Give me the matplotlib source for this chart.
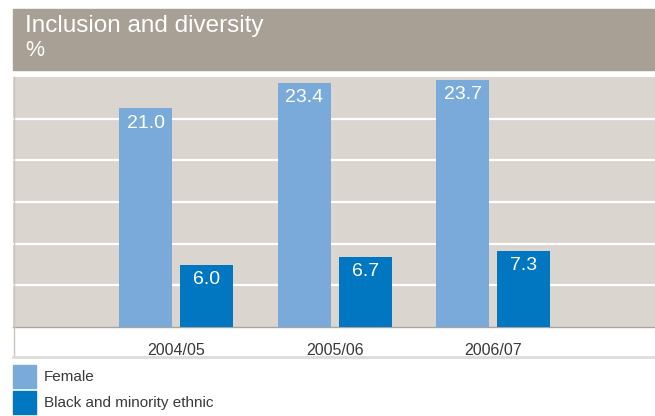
import matplotlib
matplotlib.use("Agg")
import matplotlib.pyplot as plt
from matplotlib.patches import Rectangle
from matplotlib.lines import Line2D
import numpy as np

plt.rcParams['font.family'] = ['Liberation Sans', 'DejaVu Sans']

years = ["2004/05", "2005/06", "2006/07"]
female = [21.0, 23.4, 23.7]
bme = [6.0, 6.7, 7.3]
series_names = ["Female", "Black and minority ethnic"]
title = "Inclusion and diversity"
unit = "%"

c_female = "#7aaad9"
c_bme = "#0077c0"
bg = "#dad5cf"
header = "#a89f95"

W, H = 655, 416
fig = plt.figure(figsize=(W / 100, H / 100), dpi=100)

def fx(px):
    return px / W

def fy(py):
    return 1 - py / H

# header band
fig.patches.append(Rectangle((fx(13), fy(70)), fx(W) - fx(13), fy(9) - fy(70),
                             transform=fig.transFigure, color=header, zorder=0))
fig.text(fx(25), fy(32), title, color="white", fontsize=17.5, fontweight="normal",
         va="baseline", ha="left")
fig.text(fx(25), fy(56.5), unit, color="white", fontsize=15.5, va="baseline", ha="left")

# plot axes
ax = fig.add_axes([fx(13), fy(327), fx(W) - fx(13), fy(77) - fy(327)])
ax.set_facecolor(bg)
ax.set_ylim(0, 24)
ax.set_xlim(-1.03, 3.02)
ax.set_yticks([4, 8, 12, 16, 20])
ax.yaxis.grid(True, color="white", lw=1.6)
ax.set_axisbelow(True)
ax.tick_params(axis="y", left=False, labelleft=False)
ax.tick_params(axis="x", bottom=False, pad=8, labelsize=11.5, labelcolor="#3a3a3a")
for s in ["top", "right", "left"]:
    ax.spines[s].set_visible(False)
ax.spines["bottom"].set_color("#aaa49e")
ax.spines["bottom"].set_linewidth(1)

x = np.arange(len(years))
w = 0.334
off = 0.1925
b1 = ax.bar(x - off, female, w, color=c_female, zorder=3)
b2 = ax.bar(x + off, bme, w, color=c_bme, zorder=3)
ax.set_xticks(x)
ax.set_xticklabels(years)

for bars, vals in ((b1, female), (b2, bme)):
    for r, v in zip(bars, vals):
        ax.annotate(f"{v:.1f}", (r.get_x() + r.get_width() / 2, v),
                    xytext=(0, -4.5), textcoords="offset points",
                    ha="center", va="top", color="white", fontsize=14, zorder=4)

# left border line and bottom line
fig.add_artist(Line2D([fx(13.5), fx(13.5)], [fy(77), fy(357)], transform=fig.transFigure,
                      color="#c9c4bf", lw=1))
fig.add_artist(Line2D([fx(13), fx(W)], [fy(357), fy(357)], transform=fig.transFigure,
                      color="#dcdcdc", lw=2))

# legend
for i, (name, col) in enumerate(zip(series_names, [c_female, c_bme])):
    top = 365 + i * 26
    fig.patches.append(Rectangle((fx(13), fy(top + 23)), fx(23), 23 / H,
                                 transform=fig.transFigure, color=col))
    fig.text(fx(44), fy(top + 12), name, fontsize=11, color="#3a3a3a",
             va="center", ha="left")

fig.savefig("out.png", dpi=100)
